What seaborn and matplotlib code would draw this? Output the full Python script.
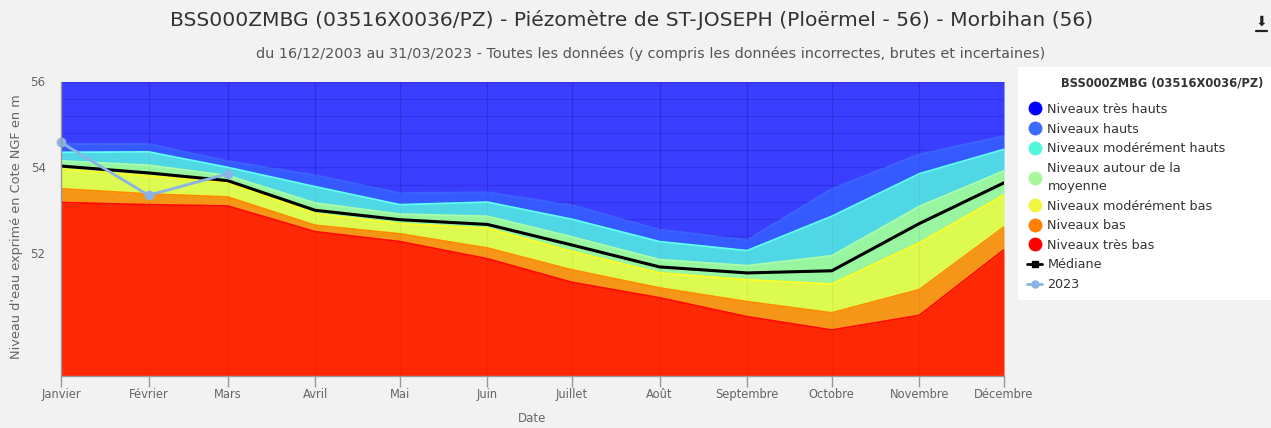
import matplotlib
matplotlib.use("Agg")
import matplotlib.pyplot as plt
from matplotlib.lines import Line2D
from matplotlib.patches import Rectangle
import numpy as np
import pandas as pd
import seaborn as sns

sns.set_theme(style="white")
plt.rcParams["font.family"] = ["DejaVu Sans"]

# ---------------------------------------------------------------------
# Data
# ---------------------------------------------------------------------
months = ["Janvier", "Février", "Mars", "Avril", "Mai", "Juin", "Juillet",
          "Août", "Septembre", "Octobre", "Novembre", "Décembre"]
day_of_year = [0, 31, 59, 90, 120, 151, 181, 212, 243, 273, 304, 334]

# upper limits of each band (m NGF)
tres_bas = [53.18, 53.13, 53.10, 52.50, 52.27, 51.87, 51.32, 50.96, 50.52, 50.21, 50.55, 52.08]
bas = [53.50, 53.38, 53.31, 52.65, 52.45, 52.12, 51.61, 51.19, 50.87, 50.61, 51.15, 52.61]
mod_bas = [53.96, 53.80, 53.65, 52.92, 52.69, 52.58, 52.04, 51.54, 51.38, 51.28, 52.24, 53.36]
moyenne = [54.15, 54.05, 53.81, 53.17, 52.91, 52.86, 52.38, 51.85, 51.71, 51.94, 53.09, 53.92]
mod_hauts = [54.35, 54.36, 54.00, 53.55, 53.13, 53.19, 52.79, 52.27, 52.06, 52.86, 53.85, 54.42]
hauts = [54.55, 54.55, 54.15, 53.82, 53.40, 53.42, 53.12, 52.55, 52.31, 53.50, 54.31, 54.73]

mediane = [54.03, 53.87, 53.69, 53.00, 52.78, 52.67, 52.19, 51.68, 51.54, 51.59, 52.69, 53.64]
niveaux_2023 = [54.58, 53.35, 53.85]

Y_MIN, Y_MAX = 49.15, 56.0

band_names = ["Niveaux très bas", "Niveaux bas", "Niveaux modérément bas",
              "Niveaux autour de la\nmoyenne", "Niveaux modérément hauts",
              "Niveaux hauts", "Niveaux très hauts"]
fill_colors = ["#ff2805", "#f59619", "#dcfa50", "#98f5a0", "#50d7e6", "#355aff", "#3a3eff"]
edge_colors = ["#ff0a00", "#ff8a00", "#ffff20", "#a8ffa8", "#5ffff0", "#3a60ff", "#3a3eff"]
legend_colors = ["#ff0000", "#ff7f00", "#f0f542", "#a8f79a", "#55f5dc", "#3d6bff", "#0000ff"]

df = pd.DataFrame({"jour": day_of_year, "mediane": mediane})
df23 = pd.DataFrame({"jour": day_of_year[:3], "niveau": niveaux_2023})

# ---------------------------------------------------------------------
# Figure
# ---------------------------------------------------------------------
BG = "#f2f2f2"
W, H = 1271, 428
fig = plt.figure(figsize=(W / 100, H / 100), dpi=100, facecolor=BG)
ax = fig.add_axes([61 / W, 1 - 375.5 / H, (1004 - 61) / W, (375.5 - 81.5) / H])
ax.set_facecolor(BG)

lower = [Y_MIN] * 12
uppers = [tres_bas, bas, mod_bas, moyenne, mod_hauts, hauts, [Y_MAX] * 12]
polys = []
for i, up in enumerate(uppers):
    polys.append(ax.fill_between(day_of_year, lower, up, color=fill_colors[i], lw=0, zorder=1))
    if i < 6:
        ax.plot(day_of_year, up, color=edge_colors[i], lw=1.3, zorder=2)
    lower = up

# grid: clearly visible on the top band, barely elsewhere
top_band = polys[-1]
for y in np.arange(52.0 - 0.4 * 7, Y_MAX + 0.01, 0.4):
    ln = ax.axhline(y, color="#2020c0", lw=0.9, alpha=0.35, zorder=3)
    ln.set_clip_path(top_band.get_paths()[0], ax.transData)
for x in day_of_year:
    ln = ax.axvline(x, color="#2020c0", lw=0.9, alpha=0.35, zorder=3)
    ln.set_clip_path(top_band.get_paths()[0], ax.transData)
    ax.axvline(x, color="#800000", lw=0.8, alpha=0.05, zorder=3)

sns.lineplot(data=df, x="jour", y="mediane", color="black", lw=2.2, ax=ax, zorder=5)
sns.lineplot(data=df23, x="jour", y="niveau", color="#8ab4e6", lw=2, marker="o",
             markersize=7, markeredgewidth=0, ax=ax, zorder=6, clip_on=False)

ax.set_xlim(day_of_year[0], day_of_year[-1])
ax.set_ylim(Y_MIN, Y_MAX)
ax.set_xticks(day_of_year)
ax.set_xticklabels(months)
ax.set_yticks([52, 54, 56])
ax.tick_params(axis="x", which="major", length=8, width=1, color="#999999",
               colors="#666666", labelsize=8.3, pad=1, direction="out", bottom=True)
ax.tick_params(axis="y", which="both", length=0, colors="#666666", labelsize=8.6, pad=11)
for s in ["top", "right"]:
    ax.spines[s].set_visible(False)
for s in ["left", "bottom"]:
    ax.spines[s].set_color("#999999")
    ax.spines[s].set_linewidth(1)
    ax.spines[s].set_zorder(7)

ax.set_xlabel("Date", color="#666666", fontsize=8.5)
ax.xaxis.set_label_coords(0.5, -0.125)
ax.set_ylabel("Niveau d'eau exprimé en Cote NGF en m", color="#666666", fontsize=9.3)
ax.yaxis.set_label_coords(-0.04, 0.508)

# titles
fig.text(632 / W, 1 - 20 / H, "BSS000ZMBG (03516X0036/PZ) - Piézomètre de ST-JOSEPH "
         "(Ploërmel - 56) - Morbihan (56)", ha="center", va="center",
         fontsize=14.6, color="#333333")
fig.text(651 / W, 1 - 54 / H, "du 16/12/2003 au 31/03/2023 - Toutes les données "
         "(y compris les données incorrectes, brutes et incertaines)",
         ha="center", va="center", fontsize=10.4, color="#555555")
fig.text(1261 / W, 1 - 22 / H, "\u2b07", ha="center", va="center", fontsize=10, color="#222222")
fig.add_artist(Line2D([1256 / W, 1267 / W], [1 - 31 / H, 1 - 31 / H], color="#222222", lw=1.6))

# legend box
fig.patches.append(Rectangle((1018 / W, 1 - 300 / H), (W - 1018) / W, (300 - 67) / H,
                             transform=fig.transFigure, facecolor="white",
                             edgecolor="none", zorder=0))
fig.text(1263 / W, 1 - 83 / H, "BSS000ZMBG (03516X0036/PZ)", ha="right", va="center",
         fontsize=8.3, fontweight="bold", color="#333333")
handles = [Line2D([], [], ls="none", marker="o", markersize=10, markeredgewidth=0,
                  color=legend_colors[i]) for i in range(6, -1, -1)]
labels = [band_names[i] for i in range(6, -1, -1)]
handles += [Line2D([], [], color="black", lw=2, marker="s", markersize=5),
            Line2D([], [], color="#8ab4e6", lw=2, marker="o", markersize=5)]
labels += ["Médiane", "2023"]
leg = fig.legend(handles, labels, loc="upper left",
                 bbox_to_anchor=(1018 / W, 1 - 94 / H), frameon=False,
                 fontsize=9.2, labelspacing=0.52, handlelength=1.2,
                 handletextpad=0.4, labelcolor="#333333", borderpad=0.2)
for t in leg.get_texts():
    t.set_linespacing(1.5)

fig.savefig("out.png", dpi=100, facecolor=BG)
